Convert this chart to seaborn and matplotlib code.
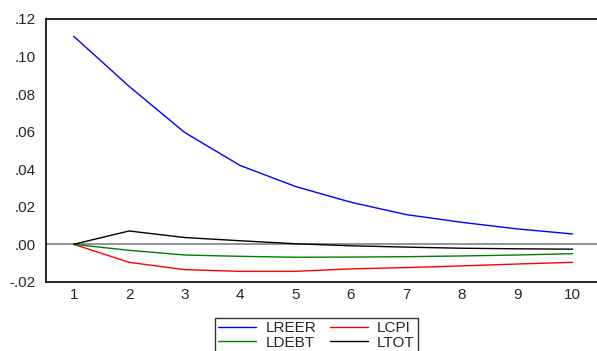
import numpy as np
import pandas as pd
import matplotlib
matplotlib.use("Agg")
import matplotlib.pyplot as plt
import seaborn as sns

# Impulse responses
periods = [1, 2, 3, 4, 5, 6, 7, 8, 9, 10]
lreer = [0.1108, 0.0841, 0.0596, 0.0420, 0.0308, 0.0224, 0.0158, 0.0117, 0.0082, 0.0055]
lcpi = [0.0, -0.0096, -0.0135, -0.0144, -0.0144, -0.0131, -0.0124, -0.0115, -0.0105, -0.0096]
ldebt = [0.0, -0.0032, -0.0057, -0.0064, -0.0069, -0.0068, -0.0066, -0.0062, -0.0057, -0.0050]
ltot = [0.0, 0.0071, 0.0036, 0.0019, 0.0003, -0.0008, -0.0015, -0.0021, -0.0024, -0.0026]

series = ["LREER", "LCPI", "LDEBT", "LTOT"]
colors = {"LREER": "#0000ff", "LCPI": "#ff0000", "LDEBT": "#008000", "LTOT": "#000000"}

df = pd.DataFrame({"period": periods, "LREER": lreer, "LCPI": lcpi,
                   "LDEBT": ldebt, "LTOT": ltot})
long = df.melt(id_vars="period", var_name="series", value_name="value")

sns.set_style("white")
plt.rcParams["font.family"] = ["Liberation Sans", "DejaVu Sans"]

fig = plt.figure(figsize=(5.97, 3.51), dpi=100)
ax = fig.add_axes([0.077, 0.197, 0.923, 0.749])

ax.axhline(0, color="#808080", lw=1.2, zorder=1)
sns.lineplot(data=long, x="period", y="value", hue="series", hue_order=series,
             palette=colors, lw=1.0, ax=ax, legend=False, zorder=2)

ax.set_xlim(0.5, 10.44)
ax.set_ylim(-0.02, 0.12)
yt = np.arange(-0.02, 0.121, 0.02)
ax.set_yticks(yt)
ax.set_yticklabels([("%.2f" % v).replace("0.", ".") for v in yt])
ax.set_xticks(np.arange(0.5, 10.5, 1.0))
ax.set_xticklabels([])
ax.set_xticks(periods, minor=True)
ax.set_xticklabels([str(p) for p in periods], minor=True)
ax.tick_params(axis="x", which="major", direction="out", length=2.5, width=1, color="black")
ax.tick_params(axis="x", which="minor", length=0, pad=4.5, labelsize=11)
ax.tick_params(axis="y", direction="out", length=4.5, width=1, color="black", labelsize=11, pad=3)
ax.set_xlabel("")
ax.set_ylabel("")
for s in ["left", "bottom", "top"]:
    ax.spines[s].set_visible(True)
    ax.spines[s].set_color("black")
    ax.spines[s].set_linewidth(1.2)
ax.spines["right"].set_visible(False)

# column-wise fill: row 1 LREER, LCPI; row 2 LDEBT, LTOT
order = ["LREER", "LDEBT", "LCPI", "LTOT"]
handles = [plt.Line2D([], [], color=colors[s], lw=1.0) for s in order]
leg = fig.legend(handles, order, loc="upper left", bbox_to_anchor=(0.36, 0.094),
                 ncol=2, frameon=True, fancybox=False, fontsize=11,
                 handlelength=2.5, columnspacing=0.9, handletextpad=0.6,
                 labelspacing=0.05, borderpad=0.2, borderaxespad=0)
leg.get_frame().set_edgecolor("black")
leg.get_frame().set_linewidth(1.0)

fig.savefig("out.png", dpi=100)
